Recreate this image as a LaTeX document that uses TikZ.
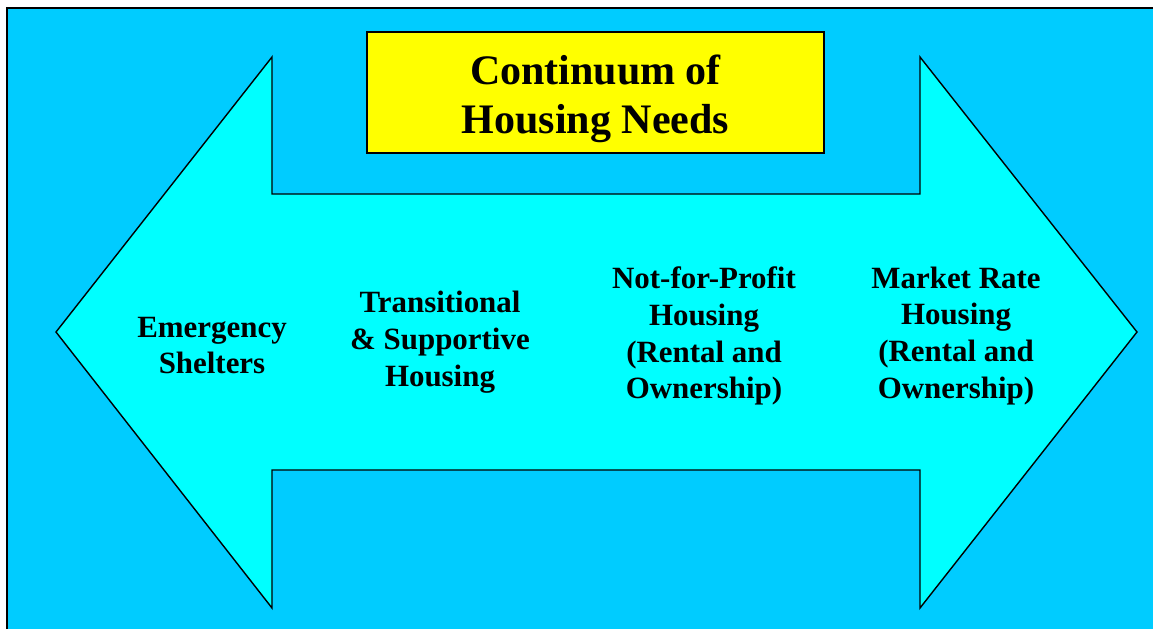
\documentclass[tikz,border=0pt]{standalone}
\usepackage{fontspec}
\setmainfont{Liberation Serif}
\usetikzlibrary{positioning}
\definecolor{skyblue}{HTML}{00CCFF}
\definecolor{arrowcyan}{HTML}{00FFFF}
\definecolor{titleyellow}{HTML}{FFFF00}
\tikzset{
  stage text/.style={font=\bfseries\fontsize{17.6}{21}\selectfont, align=center, inner sep=0pt},
  title box/.style={draw, fill=titleyellow, line width=0.8pt, minimum width=9.14cm, minimum height=2.42cm, text height=51.5pt, align=center, font=\bfseries\fontsize{23.9}{27.9}\selectfont}
}

\begin{document}
\begin{tikzpicture}[x=0.02cm, y=-0.02cm]
  \useasboundingbox (0,0) rectangle (1153,629);

  % Background panel
  \fill[skyblue] (7,8) rectangle (1153,629);
  \draw[line width=1.2pt] (7,629) -- (7,8) -- (1153,8);

  % Double-headed arrow
  \draw[fill=arrowcyan, line width=0.8pt, line join=miter]
    (56,332) -- (272,57) -- (272,194) -- (920,194) -- (920,57) -- (1137,332)
    -- (920,608) -- (920,470) -- (272,470) -- (272,608) -- cycle;

  % Title
  \node[title box] (title) at (595.5,92.5) {Continuum of\\Housing Needs};

  % Stages along the continuum
  \node[stage text] (emergency) at (212,345.5) {Emergency\\Shelters};
  \node[stage text] (transitional) at (440,342.5) {Transitional\\\& Supportive\\Housing};
  \node[stage text] (nonprofit) at (704,336) {Not-for-Profit\\Housing\\(Rental and\\Ownership)};
  \node[stage text] (market) at (956,336) {Market Rate\\Housing\\(Rental and\\Ownership)};
\end{tikzpicture}
\end{document}
